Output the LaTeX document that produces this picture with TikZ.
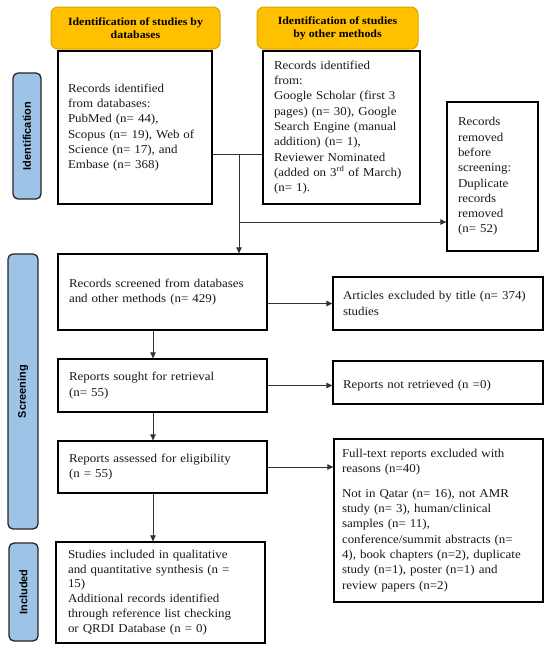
\documentclass[tikz,border=0pt]{standalone}
\usepackage{fontspec}
\setmainfont{Liberation Serif}[FakeStretch=1.08]
\setsansfont{Liberation Sans}
\usetikzlibrary{arrows.meta}
\definecolor{hdr}{HTML}{FFC000}
\definecolor{hdrline}{HTML}{D9A300}
\definecolor{tabfill}{HTML}{9DC3E6}
\begin{document}
\begin{tikzpicture}[x=1pt,y=-1pt,
  box/.style={draw=black,line width=1.3pt,rectangle,align=left,inner sep=0pt,
    font=\fontsize{12}{15.3}\selectfont,text=black!90},
  hdrbox/.style={draw=hdrline,fill=hdr,line width=1pt,rounded corners=7pt,align=center,
    inner sep=0pt,font=\bfseries\fontsize{11}{13.3}\selectfont},
  tabbox/.style={draw=black!85,fill=tabfill,line width=1.3pt,rounded corners=5pt,
    rotate=90,inner sep=0pt,font=\sffamily\bfseries\fontsize{11}{13}\selectfont},
  ln/.style={line width=0.8pt,draw=black!80},
  arr/.style={ln,-{Triangle[length=6pt,width=5.5pt]}}]
\fill[white] (0,0) rectangle (550,649);
\useasboundingbox (0,0) rectangle (550,649);

% headers
\node[hdrbox,minimum width=169pt,minimum height=42pt] (h1) at (135.5,28)
  {Identification of studies by\\databases};
\node[hdrbox,minimum width=161pt,minimum height=42pt] (h2) at (337.5,28)
  {Identification of studies\\by other methods};

% side tabs
\node[tabbox,minimum width=126pt,minimum height=28pt] (t1) at (27,136) {Identification};
\node[tabbox,minimum width=275pt,minimum height=30pt] (t2) at (23,391.5) {Screening};
\node[tabbox,minimum width=98pt,minimum height=29pt] (t3) at (23.5,592) {Included};

% boxes
\node[box,minimum width=154pt,minimum height=153pt,text width=134pt] (db) at (135,127.5)
  {Records identified\\from databases:\\PubMed (n= 44),\\Scopus (n= 19), Web of\\Science (n= 17), and\\Embase (n= 368)};
\node[box,minimum width=157pt,minimum height=153pt,text width=135pt] (oth) at (341.5,127.5)
  {Records identified\\from:\\Google Scholar (first 3\\pages) (n= 30), Google\\Search Engine (manual\\addition) (n= 1),\\Reviewer Nominated\\(added on 3\textsuperscript{rd} of March)\\(n= 1).};
\node[box,minimum width=91pt,minimum height=149pt,text width=69pt] (rem) at (492.5,176.5)
  {Records\\removed\\before\\screening:\\Duplicate\\records\\removed\\(n= 52)};
\node[box,minimum width=209pt,minimum height=76pt,text width=187pt] (scr) at (162.5,292)
  {Records screened from databases\\and other methods (n= 429)};
\node[box,minimum width=210pt,minimum height=53pt,text width=190pt] (excl) at (438,303.5)
  {Articles excluded by title (n= 374)\\studies};
\node[box,minimum width=209pt,minimum height=53pt,text width=187pt] (sought) at (162.5,385.5)
  {Reports sought for retrieval\\(n= 55)};
\node[box,minimum width=210pt,minimum height=43pt,text width=190pt] (notret) at (438,382.5)
  {\rule{0pt}{14pt}Reports not retrieved (n =0)};
\node[box,minimum width=209pt,minimum height=52pt,text width=187pt] (ass) at (162.5,467)
  {Reports assessed for eligibility\\(n = 55)};
\node[box,minimum width=209pt,minimum height=163pt,text width=193pt] (full) at (438.5,520.5)
  {Full-text reports excluded with\\reasons (n=40)\\[9pt]Not in Qatar (n= 16), not AMR\\study (n= 3), human/clinical\\samples (n= 11),\\conference/summit abstracts (n=\\4), book chapters (n=2), duplicate\\study (n=1), poster (n=1) and\\review papers (n=2)};
\node[box,minimum width=209pt,minimum height=101pt,text width=185pt,
  font=\fontsize{12}{14.8}\selectfont] (inc) at (160.5,592.5)
  {Studies included in qualitative\\and quantitative synthesis (n =\\15)\\Additional records identified\\through reference list checking\\or QRDI Database (n = 0)};

% connectors
\coordinate (j) at (239,154);
\coordinate (k) at (239,222);
\coordinate (ax) at (153,0);
\draw[ln] (db.east |- j) -- (oth.west |- j);
\draw[arr] (j) -- (scr.north -| j);
\draw[arr] (k) -- (rem.west |- k);
\draw[arr] (scr.east |- excl.west) -- (excl.west);
\draw[arr] (sought.east) -- (notret.west |- sought.east);
\draw[arr] (ass.east) -- (full.west |- ass.east);
\draw[arr] (scr.south -| ax) -- (sought.north -| ax);
\draw[arr] (sought.south -| ax) -- (ass.north -| ax);
\draw[arr] (ass.south -| ax) -- (inc.north -| ax);
\end{tikzpicture}
\end{document}
